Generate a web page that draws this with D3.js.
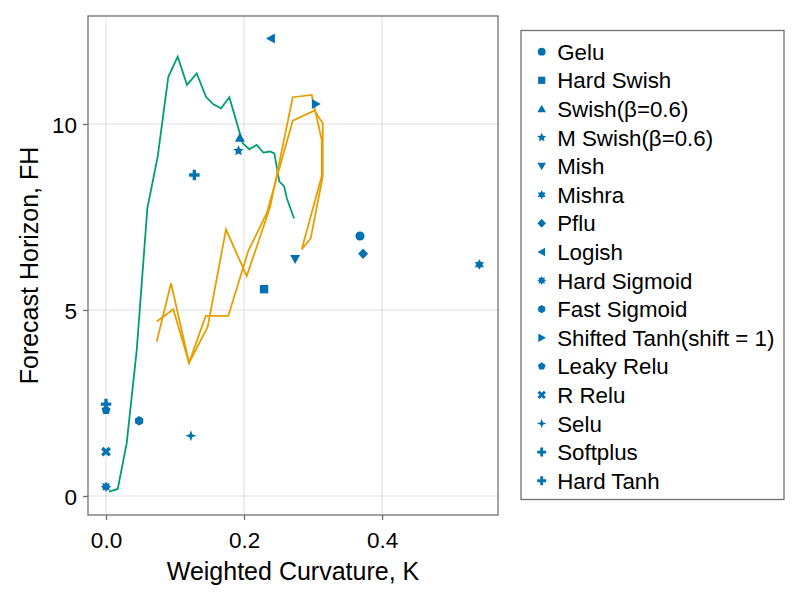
<!DOCTYPE html>
<html>
<head>
<meta charset="utf-8">
<script src="https://cdn.jsdelivr.net/npm/d3@7"></script>
<style>
  html, body { margin: 0; padding: 0; background: #fff; }
  svg { display: block; font-family: "Liberation Sans", Arial, Helvetica, sans-serif; }
</style>
</head>
<body>
<svg id="chart" width="800" height="600"></svg>
<script>
// ---------------- data ----------------
const xTicks = [0, 0.2, 0.4];
const yTicks = [0, 5, 10];
const xTickLabels = ["0.0", "0.2", "0.4"];
const yTickLabels = ["0", "5", "10"];

const pointNames = ["Gelu", "Hard Swish", "Swish(β=0.6)", "M Swish(β=0.6)", "Mish", "Mishra", "Pflu", "Logish",
  "Hard Sigmoid", "Fast Sigmoid", "Shifted Tanh(shift = 1)", "Leaky Relu", "R Relu", "Selu", "Softplus", "Hard Tanh"];
const pointMarkers = ["circle", "rect", "utriangle", "star5", "dtriangle", "star6", "diamond", "ltriangle",
  "star8", "hexagon", "rtriangle", "pentagon", "xcross", "star4", "cross", "cross"];
const pointX = [0.368, 0.229, 0.194, 0.192, 0.274, 0.541, 0.3725, 0.239, 0.0, 0.048, 0.304, 0.0, 0.0, 0.123, 0.128, 0.0];
const pointY = [6.99, 5.56, 9.63, 9.28, 6.37, 6.22, 6.51, 12.30, 0.25, 2.02, 10.54, 2.31, 1.19, 1.62, 8.63, 2.47];

const greenX = [0.0043, 0.017, 0.030, 0.0445, 0.0599, 0.0749, 0.0903, 0.1039, 0.1174, 0.1314, 0.1449, 0.1555,
  0.1667, 0.1787, 0.1981, 0.2077, 0.2184, 0.2280, 0.2377, 0.2439, 0.2512, 0.2580, 0.2619, 0.2725];
const greenY = [0.12, 0.19, 1.42, 3.92, 7.73, 9.12, 11.27, 11.81, 11.05, 11.36, 10.73, 10.53,
  10.42, 10.72, 9.48, 9.32, 9.44, 9.23, 9.26, 9.21, 8.45, 8.33, 8.01, 7.46];

const orangeAX = [0.0735, 0.0942, 0.1203, 0.1474, 0.1739, 0.2039, 0.2377, 0.2706, 0.2981, 0.3126, 0.3126, 0.2836];
const orangeAY = [4.15, 5.72, 3.58, 4.55, 7.17, 5.91, 7.76, 10.72, 10.78, 9.57, 8.60, 6.63];
const orangeBX = [0.0735, 0.0975, 0.1203, 0.1445, 0.1772, 0.2062, 0.2329, 0.2706, 0.3019, 0.3141, 0.3141, 0.2967, 0.2836];
const orangeBY = [4.69, 5.02, 3.58, 4.84, 4.84, 6.59, 7.60, 10.09, 10.36, 10.02, 8.60, 6.93, 6.63];

// ---------------- style ----------------
const BLUE = "#0072B2", ORANGE = "#E69F00", GREEN = "#009E73";
const plot = { left: 88, right: 498, top: 16, bottom: 515 };
const svg = d3.select("#chart");

const x = d3.scaleLinear().domain([-0.0261, 0.568]).range([plot.left, plot.right]);
const y = d3.scaleLinear().domain([-0.511, 12.903]).range([plot.bottom, plot.top]);

function starPts(n, outer, inner, rot) {
  const pts = [];
  for (let i = 0; i < 2 * n; i++) {
    const r = i % 2 === 0 ? outer : inner;
    const a = rot + Math.PI * i / n;
    pts.push([r * Math.sin(a), -r * Math.cos(a)]);
  }
  return pts;
}
function polyPts(n, r, rot) {
  const pts = [];
  for (let i = 0; i < n; i++) {
    const a = rot + 2 * Math.PI * i / n;
    pts.push([r * Math.sin(a), -r * Math.cos(a)]);
  }
  return pts;
}
function crossPts(w) {
  return [[-w, -1], [w, -1], [w, -w], [1, -w], [1, w], [w, w], [w, 1], [-w, 1], [-w, w], [-1, w], [-1, -w], [-w, -w]];
}
function shapePts(kind) {
  switch (kind) {
    case "rect": return [[-0.8, -0.8], [0.8, -0.8], [0.8, 0.8], [-0.8, 0.8]];
    case "utriangle": return [[0, -0.95], [0.95, 0.75], [-0.95, 0.75]];
    case "dtriangle": return [[0, 0.95], [0.95, -0.75], [-0.95, -0.75]];
    case "ltriangle": return [[-0.95, 0], [0.75, -0.95], [0.75, 0.95]];
    case "rtriangle": return [[0.95, 0], [-0.75, -0.95], [-0.75, 0.95]];
    case "star5": return starPts(5, 1.05, 0.5, 0);
    case "star6": return starPts(6, 1.0, 0.58, 0);
    case "star8": return starPts(8, 1.0, 0.62, 0);
    case "star4": return starPts(4, 1.05, 0.38, 0);
    case "diamond": return [[0, -1], [0.95, 0], [0, 1], [-0.95, 0]];
    case "hexagon": return polyPts(6, 0.9, 0);
    case "pentagon": return polyPts(5, 0.9, 0);
    case "cross": return crossPts(0.32);
    case "xcross": return crossPts(0.32).map(([a, b]) => [(a - b) * 0.7071, (a + b) * 0.7071]);
  }
  return null;
}
function markerPath(kind, s) {
  const r = s / 2;
  if (kind === "circle") {
    const c = r * 0.87;
    return `M${-c},0A${c},${c} 0 1,0 ${c},0A${c},${c} 0 1,0 ${-c},0Z`;
  }
  const pts = shapePts(kind);
  return "M" + pts.map(p => (p[0] * r).toFixed(2) + "," + (p[1] * r).toFixed(2)).join("L") + "Z";
}

// ---------------- grid ----------------
const grid = svg.append("g");
grid.selectAll(".gx").data(xTicks).join("line")
  .attr("x1", d => x(d)).attr("x2", d => x(d)).attr("y1", plot.top).attr("y2", plot.bottom)
  .attr("stroke", "#000").attr("stroke-opacity", 0.12).attr("stroke-width", 1);
grid.selectAll(".gy").data(yTicks).join("line")
  .attr("y1", d => y(d)).attr("y2", d => y(d)).attr("x1", plot.left).attr("x2", plot.right)
  .attr("stroke", "#000").attr("stroke-opacity", 0.12).attr("stroke-width", 1);

// ---------------- lines ----------------
const line = d3.line().x(d => x(d[0])).y(d => y(d[1]));
const series = [
  { xs: greenX, ys: greenY, color: GREEN },
  { xs: orangeAX, ys: orangeAY, color: ORANGE },
  { xs: orangeBX, ys: orangeBY, color: ORANGE }
];
series.forEach(s => {
  svg.append("path")
    .attr("d", line(s.xs.map((v, i) => [v, s.ys[i]])))
    .attr("fill", "none").attr("stroke", s.color).attr("stroke-width", 1.8)
    .attr("stroke-linejoin", "miter");
});

// ---------------- points ----------------
svg.append("g").selectAll("path").data(pointNames).join("path")
  .attr("transform", (d, i) => `translate(${x(pointX[i])},${y(pointY[i])})`)
  .attr("d", (d, i) => markerPath(pointMarkers[i], 10.5))
  .attr("fill", BLUE);

// ---------------- frame & axes ----------------
svg.append("rect")
  .attr("x", plot.left).attr("y", plot.top)
  .attr("width", plot.right - plot.left).attr("height", plot.bottom - plot.top)
  .attr("fill", "none").attr("stroke", "#707070").attr("stroke-width", 1.3);

const xAxis = d3.axisBottom(x).tickValues(xTicks).tickFormat((d, i) => xTickLabels[i]).tickSize(5).tickPadding(8);
const gx = svg.append("g").attr("transform", `translate(0,${plot.bottom})`).call(xAxis);
gx.select(".domain").remove();
gx.selectAll(".tick line").attr("stroke", "#707070").attr("stroke-width", 1.3);
gx.selectAll(".tick text").attr("font-size", 22.5).attr("fill", "#000")
  .attr("font-family", "Liberation Sans, Arial, sans-serif").attr("dy", null).attr("y", 32.5);

const yAxis = d3.axisLeft(y).tickValues(yTicks).tickFormat((d, i) => yTickLabels[i]).tickSize(5).tickPadding(6);
const gy = svg.append("g").attr("transform", `translate(${plot.left},0)`).call(yAxis);
gy.select(".domain").remove();
gy.selectAll(".tick line").attr("stroke", "#707070").attr("stroke-width", 1.3);
gy.selectAll(".tick text").attr("font-size", 22.5).attr("fill", "#000")
  .attr("font-family", "Liberation Sans, Arial, sans-serif").attr("dy", "0.36em").attr("x", -11);

svg.append("text")
  .attr("x", (plot.left + plot.right) / 2).attr("y", 580)
  .attr("text-anchor", "middle").attr("font-size", 25).attr("fill", "#000")
  .text("Weighted Curvature, K");

svg.append("text")
  .attr("transform", `translate(38,${(plot.top + plot.bottom) / 2}) rotate(-90)`)
  .attr("text-anchor", "middle").attr("font-size", 25).attr("fill", "#000")
  .text("Forecast Horizon, FH");

// ---------------- legend ----------------
const legend = svg.append("g");
legend.append("rect")
  .attr("x", 521).attr("y", 30.5).attr("width", 263).attr("height", 469)
  .attr("fill", "#fff").attr("stroke", "#707070").attr("stroke-width", 1.3);
const rowH = 28.6, row0 = 51.7;
const items = legend.selectAll("g.item").data(pointNames).join("g")
  .attr("transform", (d, i) => `translate(541.7,${row0 + i * rowH})`);
items.append("path").attr("d", (d, i) => markerPath(pointMarkers[i], 9)).attr("fill", BLUE);
items.append("text").attr("x", 15.5).attr("y", 8)
  .attr("font-size", 22.3).attr("fill", "#000").text(d => d);
</script>
</body>
</html>
